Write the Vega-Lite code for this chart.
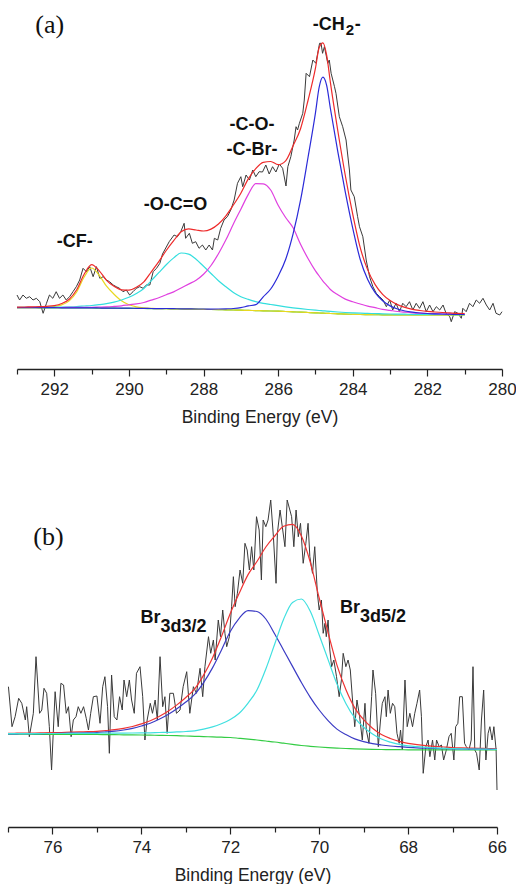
{
"$schema": "https://vega.github.io/schema/vega-lite/v6.json",
"padding": {"left": 5, "top": 5, "right": 0, "bottom": 0},
"spacing": 54,
"config": {"view": {"stroke": null}, "line": {"strokeWidth": 1.2}},
"datasets": {
"a_raw": [
{"E":293.0,"I":74},{"E":292.93,"I":69},{"E":292.84,"I":74},{"E":292.75,"I":70.7},{"E":292.66,"I":72.3},{"E":292.57,"I":69},{"E":292.48,"I":70.7},{"E":292.39,"I":67.3},{"E":292.3,"I":55.7},{"E":292.21,"I":65.7},{"E":292.13,"I":74},{"E":292.04,"I":70.7},{"E":291.95,"I":77.3},{"E":291.86,"I":70.7},{"E":291.77,"I":74},{"E":291.68,"I":69},{"E":291.59,"I":72.3},{"E":291.5,"I":77.3},{"E":291.41,"I":82.3},{"E":291.32,"I":89},{"E":291.23,"I":100.7},{"E":291.14,"I":97.3},{"E":291.05,"I":102.3},{"E":290.96,"I":92.3},{"E":290.87,"I":102.3},{"E":290.78,"I":90.7},{"E":290.69,"I":92.3},{"E":290.6,"I":89},{"E":290.52,"I":87.3},{"E":290.42,"I":84},{"E":290.34,"I":82.3},{"E":290.25,"I":80.7},{"E":290.16,"I":77.3},{"E":290.07,"I":79},{"E":289.98,"I":74},{"E":289.89,"I":77.3},{"E":289.8,"I":80.7},{"E":289.71,"I":82.3},{"E":289.62,"I":80.7},{"E":289.53,"I":84},{"E":289.44,"I":84},{"E":289.35,"I":97.3},{"E":289.26,"I":100.7},{"E":289.17,"I":105.7},{"E":289.1,"I":115},{"E":288.92,"I":127.3},{"E":288.79,"I":134},{"E":288.7,"I":132.3},{"E":288.61,"I":137.3},{"E":288.52,"I":145.7},{"E":288.48,"I":130.7},{"E":288.38,"I":135.7},{"E":288.3,"I":125.7},{"E":288.21,"I":127.3},{"E":288.12,"I":120.7},{"E":288.03,"I":124},{"E":287.94,"I":119},{"E":287.85,"I":124},{"E":287.76,"I":119},{"E":287.71,"I":130.7},{"E":287.62,"I":129},{"E":287.54,"I":140.7},{"E":287.45,"I":149},{"E":287.36,"I":152.3},{"E":287.27,"I":159},{"E":287.18,"I":169},{"E":287.09,"I":185.7},{"E":287.0,"I":192.3},{"E":286.95,"I":182.3},{"E":286.86,"I":194},{"E":286.77,"I":189},{"E":286.68,"I":199},{"E":286.6,"I":192.3},{"E":286.51,"I":197.3},{"E":286.42,"I":197},{"E":286.33,"I":204},{"E":286.24,"I":195},{"E":286.15,"I":202.3},{"E":286.06,"I":197},{"E":285.97,"I":205},{"E":285.88,"I":200.7},{"E":285.79,"I":183},{"E":285.74,"I":202.3},{"E":285.66,"I":212.3},{"E":285.57,"I":229},{"E":285.52,"I":242.3},{"E":285.48,"I":239},{"E":285.43,"I":245.7},{"E":285.34,"I":255.7},{"E":285.3,"I":269},{"E":285.25,"I":295.7},{"E":285.16,"I":292.3},{"E":285.07,"I":309},{"E":284.99,"I":305.7},{"E":284.94,"I":315.7},{"E":284.89,"I":325.7},{"E":284.85,"I":325.7},{"E":284.81,"I":315.7},{"E":284.76,"I":322.3},{"E":284.67,"I":305.7},{"E":284.63,"I":309},{"E":284.58,"I":295.7},{"E":284.49,"I":282.3},{"E":284.45,"I":275.7},{"E":284.36,"I":252.3},{"E":284.27,"I":242.3},{"E":284.18,"I":229},{"E":284.09,"I":199},{"E":284.05,"I":179},{"E":283.96,"I":172.3},{"E":283.87,"I":152.3},{"E":283.82,"I":142.3},{"E":283.73,"I":132.3},{"E":283.64,"I":109},{"E":283.55,"I":92.3},{"E":283.46,"I":82.3},{"E":283.37,"I":75.7},{"E":283.28,"I":72.3},{"E":283.19,"I":69},{"E":283.1,"I":62.3},{"E":283.01,"I":69},{"E":282.93,"I":59},{"E":282.84,"I":65.7},{"E":282.75,"I":57.3},{"E":282.66,"I":65.7},{"E":282.57,"I":62.3},{"E":282.48,"I":67.3},{"E":282.39,"I":59},{"E":282.3,"I":65.7},{"E":282.21,"I":60.7},{"E":282.12,"I":67.3},{"E":282.03,"I":57.3},{"E":281.94,"I":64},{"E":281.85,"I":57.3},{"E":281.76,"I":62.3},{"E":281.67,"I":59},{"E":281.58,"I":64},{"E":281.5,"I":55.7},{"E":281.4,"I":52.3},{"E":281.36,"I":47.3},{"E":281.27,"I":57.3},{"E":281.18,"I":55.7},{"E":281.09,"I":50.7},{"E":281.05,"I":60.7},{"E":280.96,"I":57.3},{"E":280.87,"I":65.7},{"E":280.78,"I":62.3},{"E":280.69,"I":69},{"E":280.6,"I":65.7},{"E":280.51,"I":70.7},{"E":280.42,"I":64},{"E":280.33,"I":59},{"E":280.24,"I":65.7},{"E":280.16,"I":55.7},{"E":280.06,"I":54},{"E":280.0,"I":57.3}
],
"a_fit": [
{"E":293.0,"bg":61.3,"cf":61.3,"oco":61.6,"co":61.5,"ch2":61.4,"fit":61.9},
{"E":292.8,"bg":61.3,"cf":61.3,"oco":61.7,"co":61.5,"ch2":61.4,"fit":62.0},
{"E":292.6,"bg":61.3,"cf":61.4,"oco":61.7,"co":61.6,"ch2":61.4,"fit":62.2},
{"E":292.4,"bg":61.2,"cf":61.4,"oco":61.7,"co":61.5,"ch2":61.3,"fit":62.3},
{"E":292.2,"bg":61.2,"cf":61.7,"oco":61.8,"co":61.5,"ch2":61.3,"fit":62.7},
{"E":292.0,"bg":61.2,"cf":62.4,"oco":61.8,"co":61.5,"ch2":61.3,"fit":63.4},
{"E":291.8,"bg":61.1,"cf":64.1,"oco":62.0,"co":61.5,"ch2":61.2,"fit":65.5},
{"E":291.6,"bg":61.1,"cf":68.1,"oco":62.2,"co":61.6,"ch2":61.2,"fit":69.8},
{"E":291.4,"bg":61.0,"cf":77.0,"oco":62.5,"co":61.6,"ch2":61.1,"fit":79.2},
{"E":291.2,"bg":61.0,"cf":92.0,"oco":63.0,"co":61.7,"ch2":61.1,"fit":94.8},
{"E":291.0,"bg":61.0,"cf":101.0,"oco":63.5,"co":61.7,"ch2":61.1,"fit":104.3},
{"E":290.8,"bg":60.9,"cf":93.9,"oco":64.3,"co":61.9,"ch2":61.0,"fit":98.4},
{"E":290.6,"bg":60.8,"cf":82.8,"oco":65.3,"co":62.1,"ch2":60.9,"fit":88.7},
{"E":290.4,"bg":60.8,"cf":74.8,"oco":66.8,"co":62.6,"ch2":60.9,"fit":82.7},
{"E":290.2,"bg":60.7,"cf":68.2,"oco":69.0,"co":63.2,"ch2":60.8,"fit":79.1},
{"E":290.0,"bg":60.7,"cf":64.2,"oco":71.7,"co":64.2,"ch2":60.8,"fit":78.8},
{"E":289.8,"bg":60.6,"cf":62.1,"oco":75.6,"co":65.1,"ch2":60.7,"fit":81.7},
{"E":289.6,"bg":60.5,"cf":61.1,"oco":80.5,"co":66.5,"ch2":60.6,"fit":87.2},
{"E":289.4,"bg":60.4,"cf":60.6,"oco":88.4,"co":68.9,"ch2":60.5,"fit":97.2},
{"E":289.2,"bg":60.3,"cf":60.3,"oco":96.3,"co":71.3,"ch2":60.4,"fit":107.4},
{"E":289.0,"bg":60.3,"cf":60.3,"oco":104.3,"co":74.3,"ch2":60.5,"fit":118.5},
{"E":288.8,"bg":60.1,"cf":60.1,"oco":111.1,"co":77.1,"ch2":60.3,"fit":128.3},
{"E":288.6,"bg":60.0,"cf":60.0,"oco":116.0,"co":81.0,"ch2":60.2,"fit":137.2},
{"E":288.4,"bg":59.9,"cf":59.9,"oco":114.9,"co":84.9,"ch2":60.1,"fit":140.1},
{"E":288.2,"bg":59.8,"cf":59.8,"oco":109.8,"co":88.8,"ch2":60.0,"fit":139.0},
{"E":288.0,"bg":59.7,"cf":59.7,"oco":102.7,"co":94.7,"ch2":60.0,"fit":138.0},
{"E":287.8,"bg":59.5,"cf":59.5,"oco":95.5,"co":103.5,"ch2":59.9,"fit":139.9},
{"E":287.6,"bg":59.3,"cf":59.3,"oco":88.3,"co":115.3,"ch2":60.0,"fit":145.0},
{"E":287.4,"bg":59.2,"cf":59.2,"oco":82.2,"co":129.2,"ch2":60.2,"fit":153.2},
{"E":287.2,"bg":59.0,"cf":59.0,"oco":76.5,"co":145.0,"ch2":60.5,"fit":164.0},
{"E":287.0,"bg":58.8,"cf":58.8,"oco":72.3,"co":159.8,"ch2":61.3,"fit":175.8},
{"E":286.8,"bg":58.6,"cf":58.6,"oco":69.6,"co":174.6,"ch2":63.1,"fit":190.1},
{"E":286.6,"bg":58.4,"cf":58.4,"oco":67.4,"co":185.4,"ch2":64.4,"fit":200.4},
{"E":286.4,"bg":58.2,"cf":58.2,"oco":65.7,"co":185.2,"ch2":72.2,"fit":206.7},
{"E":286.2,"bg":58.0,"cf":58.0,"oco":64.5,"co":179.0,"ch2":80.0,"fit":207.5},
{"E":286.0,"bg":57.8,"cf":57.8,"oco":63.3,"co":163.8,"ch2":92.8,"fit":204.3},
{"E":285.8,"bg":57.5,"cf":57.5,"oco":62.2,"co":151.5,"ch2":109.5,"fit":208.2},
{"E":285.6,"bg":57.2,"cf":57.2,"oco":61.2,"co":141.2,"ch2":135.2,"fit":223.2},
{"E":285.4,"bg":56.8,"cf":56.8,"oco":60.3,"co":124.8,"ch2":168.8,"fit":240.3},
{"E":285.2,"bg":56.5,"cf":56.5,"oco":59.5,"co":110.5,"ch2":211.5,"fit":268.5},
{"E":285.0,"bg":56.2,"cf":56.2,"oco":58.8,"co":98.2,"ch2":256.2,"fit":300.8},
{"E":284.9,"bg":56.0,"cf":56.0,"oco":58.5,"co":93.0,"ch2":282.0,"fit":321.5},
{"E":284.8,"bg":55.9,"cf":55.9,"oco":58.2,"co":87.9,"ch2":291.9,"fit":326.2},
{"E":284.7,"bg":55.7,"cf":55.7,"oco":57.9,"co":83.7,"ch2":283.7,"fit":313.9},
{"E":284.6,"bg":55.5,"cf":55.5,"oco":57.6,"co":79.5,"ch2":260.5,"fit":286.6},
{"E":284.4,"bg":55.2,"cf":55.2,"oco":57.0,"co":74.2,"ch2":217.2,"fit":238.0},
{"E":284.2,"bg":54.9,"cf":54.9,"oco":56.5,"co":69.9,"ch2":176.9,"fit":193.5},
{"E":284.0,"bg":54.7,"cf":54.7,"oco":56.1,"co":67.2,"ch2":140.7,"fit":154.6},
{"E":283.8,"bg":54.5,"cf":54.5,"oco":55.8,"co":65.0,"ch2":109.5,"fit":121.3},
{"E":283.6,"bg":54.4,"cf":54.4,"oco":55.6,"co":62.9,"ch2":89.4,"fit":99.1},
{"E":283.4,"bg":54.3,"cf":54.3,"oco":55.4,"co":61.3,"ch2":76.3,"fit":84.4},
{"E":283.2,"bg":54.2,"cf":54.2,"oco":55.2,"co":59.7,"ch2":68.2,"fit":74.7},
{"E":283.0,"bg":54.1,"cf":54.1,"oco":55.0,"co":58.6,"ch2":63.1,"fit":68.5},
{"E":282.8,"bg":54.0,"cf":54.0,"oco":54.9,"co":57.5,"ch2":60.0,"fit":64.4},
{"E":282.6,"bg":54.0,"cf":54.0,"oco":54.8,"co":56.8,"ch2":58.0,"fit":61.6},
{"E":282.4,"bg":54.0,"cf":54.0,"oco":54.7,"co":56.2,"ch2":56.8,"fit":59.7},
{"E":282.2,"bg":54.0,"cf":54.0,"oco":54.7,"co":55.8,"ch2":56.0,"fit":58.5},
{"E":282.0,"bg":54.0,"cf":54.0,"oco":54.6,"co":55.5,"ch2":55.5,"fit":57.6},
{"E":281.8,"bg":54.0,"cf":54.0,"oco":54.6,"co":55.3,"ch2":55.2,"fit":57.0},
{"E":281.6,"bg":54.0,"cf":54.0,"oco":54.5,"co":55.0,"ch2":55.0,"fit":56.5},
{"E":281.4,"bg":54.0,"cf":54.0,"oco":54.5,"co":54.9,"ch2":54.8,"fit":56.1},
{"E":281.2,"bg":54.0,"cf":54.0,"oco":54.4,"co":54.7,"ch2":54.6,"fit":55.7},
{"E":281.0,"bg":54.0,"cf":54.0,"oco":54.4,"co":54.6,"ch2":54.5,"fit":55.5}
],
"a_letter": [{"E":292.51,"I":336,"t":"(a)"}],
"a_lab_c": [{"E":286.7,"I":239,"t":"-C-O-"},{"E":286.7,"I":214,"t":"-C-Br-"},{"E":288.75,"I":159,"t":"-O-C=O"},{"E":291.45,"I":122,"t":"-CF-"}],
"a_lab_l": [{"E":285.07,"I":339,"t":"-CH"},{"E":283.95,"I":339,"t":"-"}],
"a_lab_sub": [{"E":284.19,"I":334,"t":"2"}],
"b_raw": [
{"E":76.99,"I":140.3},{"E":76.91,"I":100.3},{"E":76.84,"I":110.3},{"E":76.76,"I":128.7},{"E":76.69,"I":123.7},{"E":76.61,"I":107},{"E":76.58,"I":120.3},{"E":76.52,"I":90.3},{"E":76.43,"I":113.7},{"E":76.37,"I":170.3},{"E":76.29,"I":113.7},{"E":76.24,"I":117},{"E":76.19,"I":138.7},{"E":76.13,"I":133.7},{"E":76.07,"I":100.3},{"E":76.02,"I":57},{"E":75.94,"I":135.3},{"E":75.87,"I":100.3},{"E":75.81,"I":143.7},{"E":75.75,"I":142},{"E":75.69,"I":113.7},{"E":75.64,"I":120.3},{"E":75.58,"I":90.3},{"E":75.53,"I":107},{"E":75.47,"I":110.3},{"E":75.42,"I":120.3},{"E":75.36,"I":113.7},{"E":75.3,"I":120.3},{"E":75.24,"I":108.7},{"E":75.19,"I":97},{"E":75.14,"I":113.7},{"E":75.08,"I":130.3},{"E":75.0,"I":131},{"E":74.93,"I":103.7},{"E":74.87,"I":140.3},{"E":74.82,"I":150.3},{"E":74.76,"I":120.3},{"E":74.72,"I":73.7},{"E":74.67,"I":152},{"E":74.61,"I":110.3},{"E":74.55,"I":107},{"E":74.49,"I":130.3},{"E":74.43,"I":117},{"E":74.39,"I":147},{"E":74.33,"I":130.3},{"E":74.27,"I":147},{"E":74.22,"I":127},{"E":74.16,"I":113.7},{"E":74.11,"I":153.7},{"E":74.03,"I":160.3},{"E":73.97,"I":130.3},{"E":73.92,"I":87},{"E":73.87,"I":107},{"E":73.8,"I":123.7},{"E":73.75,"I":113.7},{"E":73.69,"I":127},{"E":73.64,"I":107},{"E":73.58,"I":170.3},{"E":73.52,"I":120.3},{"E":73.47,"I":130.3},{"E":73.42,"I":93.7},{"E":73.36,"I":133.7},{"E":73.28,"I":133.7},{"E":73.21,"I":113.7},{"E":73.13,"I":117},{"E":73.06,"I":140.3},{"E":72.98,"I":155.3},{"E":72.91,"I":113.7},{"E":72.83,"I":140.3},{"E":72.76,"I":133.7},{"E":72.68,"I":158.7},{"E":72.62,"I":130.3},{"E":72.57,"I":160.3},{"E":72.49,"I":190.3},{"E":72.44,"I":173.7},{"E":72.38,"I":187},{"E":72.34,"I":167},{"E":72.27,"I":207},{"E":72.22,"I":190.3},{"E":72.17,"I":217},{"E":72.12,"I":193.7},{"E":72.08,"I":180.3},{"E":72.02,"I":190.3},{"E":71.97,"I":220.3},{"E":71.93,"I":250.3},{"E":71.89,"I":220.3},{"E":71.84,"I":233.7},{"E":71.78,"I":257},{"E":71.72,"I":243.7},{"E":71.67,"I":283.7},{"E":71.62,"I":277},{"E":71.57,"I":257},{"E":71.52,"I":280.3},{"E":71.47,"I":257},{"E":71.41,"I":310.3},{"E":71.35,"I":297},{"E":71.3,"I":247},{"E":71.26,"I":307},{"E":71.2,"I":300.3},{"E":71.15,"I":307},{"E":71.09,"I":327},{"E":71.03,"I":290.3},{"E":70.97,"I":243.7},{"E":70.94,"I":293.7},{"E":70.88,"I":317},{"E":70.82,"I":297},{"E":70.77,"I":280.3},{"E":70.72,"I":327},{"E":70.66,"I":317},{"E":70.62,"I":310.3},{"E":70.57,"I":280.3},{"E":70.52,"I":317},{"E":70.47,"I":290.3},{"E":70.42,"I":303.7},{"E":70.36,"I":263.7},{"E":70.3,"I":283.7},{"E":70.25,"I":303.7},{"E":70.21,"I":270.3},{"E":70.15,"I":253.7},{"E":70.1,"I":280.3},{"E":70.04,"I":233.7},{"E":70.0,"I":217},{"E":69.95,"I":227},{"E":69.91,"I":193.7},{"E":69.87,"I":203.7},{"E":69.84,"I":190.3},{"E":69.8,"I":207},{"E":69.76,"I":177},{"E":69.72,"I":160.3},{"E":69.67,"I":167},{"E":69.61,"I":150.3},{"E":69.55,"I":130.3},{"E":69.5,"I":147},{"E":69.46,"I":173.7},{"E":69.4,"I":160.3},{"E":69.35,"I":167},{"E":69.3,"I":157},{"E":69.25,"I":127},{"E":69.2,"I":100.3},{"E":69.15,"I":127},{"E":69.09,"I":110.3},{"E":69.03,"I":87},{"E":68.97,"I":123.7},{"E":68.94,"I":97},{"E":68.88,"I":83.7},{"E":68.82,"I":130.3},{"E":68.79,"I":157},{"E":68.73,"I":133.7},{"E":68.67,"I":80.3},{"E":68.62,"I":107},{"E":68.58,"I":123.7},{"E":68.52,"I":130.3},{"E":68.49,"I":110.3},{"E":68.45,"I":137},{"E":68.4,"I":113.7},{"E":68.35,"I":123.7},{"E":68.3,"I":120.3},{"E":68.25,"I":93.7},{"E":68.2,"I":83.7},{"E":68.17,"I":97},{"E":68.13,"I":77},{"E":68.07,"I":147},{"E":68.02,"I":100.3},{"E":67.96,"I":113.7},{"E":67.9,"I":100.3},{"E":67.85,"I":113.7},{"E":67.8,"I":123.7},{"E":67.74,"I":137},{"E":67.7,"I":110.3},{"E":67.66,"I":53.7},{"E":67.6,"I":80.3},{"E":67.55,"I":87},{"E":67.51,"I":70.3},{"E":67.45,"I":87},{"E":67.4,"I":67},{"E":67.36,"I":87},{"E":67.3,"I":80.3},{"E":67.25,"I":82},{"E":67.2,"I":67},{"E":67.14,"I":77},{"E":67.08,"I":90.3},{"E":67.03,"I":93.7},{"E":66.97,"I":67},{"E":66.93,"I":100.3},{"E":66.88,"I":103.7},{"E":66.84,"I":130.3},{"E":66.78,"I":130.3},{"E":66.73,"I":83.7},{"E":66.69,"I":80.3},{"E":66.63,"I":77},{"E":66.58,"I":87},{"E":66.54,"I":160.3},{"E":66.5,"I":77},{"E":66.46,"I":73.7},{"E":66.4,"I":57},{"E":66.35,"I":107},{"E":66.3,"I":137},{"E":66.25,"I":67},{"E":66.2,"I":93.7},{"E":66.16,"I":100.3},{"E":66.11,"I":87},{"E":66.07,"I":100.3},{"E":66.02,"I":77},{"E":66.0,"I":37}
],
"b_fit": [
{"E":77.0,"bg":92.8,"d32":93.1,"d52":93.3,"fit":93.6},
{"E":76.8,"bg":92.8,"d32":93.2,"d52":93.4,"fit":93.8},
{"E":76.6,"bg":92.8,"d32":93.3,"d52":93.4,"fit":93.9},
{"E":76.4,"bg":92.7,"d32":93.3,"d52":93.4,"fit":94.0},
{"E":76.2,"bg":92.7,"d32":93.4,"d52":93.5,"fit":94.2},
{"E":76.0,"bg":92.7,"d32":93.5,"d52":93.5,"fit":94.3},
{"E":75.8,"bg":92.6,"d32":93.6,"d52":93.5,"fit":94.5},
{"E":75.6,"bg":92.6,"d32":93.8,"d52":93.6,"fit":94.8},
{"E":75.4,"bg":92.6,"d32":94.0,"d52":93.7,"fit":95.1},
{"E":75.2,"bg":92.5,"d32":94.2,"d52":93.6,"fit":95.3},
{"E":75.0,"bg":92.5,"d32":94.5,"d52":93.7,"fit":95.7},
{"E":74.8,"bg":92.4,"d32":95.1,"d52":93.8,"fit":96.5},
{"E":74.6,"bg":92.3,"d32":95.8,"d52":93.8,"fit":97.3},
{"E":74.4,"bg":92.2,"d32":97.0,"d52":93.9,"fit":98.7},
{"E":74.2,"bg":92.1,"d32":98.6,"d52":94.0,"fit":100.5},
{"E":74.0,"bg":92.0,"d32":101.0,"d52":94.1,"fit":103.1},
{"E":73.8,"bg":91.8,"d32":103.8,"d52":94.2,"fit":106.2},
{"E":73.6,"bg":91.7,"d32":107.7,"d52":94.5,"fit":110.5},
{"E":73.4,"bg":91.5,"d32":112.5,"d52":94.7,"fit":115.7},
{"E":73.2,"bg":91.3,"d32":118.3,"d52":95.1,"fit":122.1},
{"E":73.0,"bg":91.0,"d32":125.0,"d52":95.5,"fit":129.5},
{"E":72.8,"bg":90.7,"d32":132.7,"d52":96.2,"fit":138.2},
{"E":72.6,"bg":90.4,"d32":144.4,"d52":97.9,"fit":151.9},
{"E":72.4,"bg":90.1,"d32":159.1,"d52":100.1,"fit":169.1},
{"E":72.2,"bg":89.8,"d32":176.8,"d52":103.3,"fit":190.3},
{"E":72.0,"bg":89.5,"d32":195.5,"d52":107.5,"fit":213.5},
{"E":71.8,"bg":88.7,"d32":208.7,"d52":113.7,"fit":233.7},
{"E":71.6,"bg":87.9,"d32":216.4,"d52":123.9,"fit":252.4},
{"E":71.4,"bg":87.0,"d32":215.5,"d52":137.0,"fit":265.5},
{"E":71.2,"bg":86.0,"d32":208.0,"d52":158.0,"fit":280.0},
{"E":71.0,"bg":85.0,"d32":193.0,"d52":183.0,"fit":291.0},
{"E":70.8,"bg":83.8,"d32":176.8,"d52":207.8,"fit":300.8},
{"E":70.6,"bg":82.6,"d32":160.6,"d52":224.6,"fit":302.6},
{"E":70.4,"bg":81.5,"d32":144.5,"d52":228.0,"fit":291.0},
{"E":70.2,"bg":80.7,"d32":129.7,"d52":215.7,"fit":264.7},
{"E":70.0,"bg":80.0,"d32":117.0,"d52":192.0,"fit":229.0},
{"E":69.8,"bg":79.4,"d32":106.4,"d52":167.4,"fit":194.4},
{"E":69.6,"bg":78.9,"d32":97.9,"d52":142.9,"fit":161.9},
{"E":69.4,"bg":78.5,"d32":92.5,"d52":123.5,"fit":137.5},
{"E":69.2,"bg":78.1,"d32":88.1,"d52":109.1,"fit":119.1},
{"E":69.0,"bg":77.8,"d32":85.3,"d52":99.8,"fit":107.3},
{"E":68.8,"bg":77.6,"d32":83.3,"d52":93.1,"fit":98.8},
{"E":68.6,"bg":77.5,"d32":82.0,"d52":88.0,"fit":92.5},
{"E":68.4,"bg":77.4,"d32":81.0,"d52":84.9,"fit":88.5},
{"E":68.2,"bg":77.3,"d32":80.3,"d52":82.6,"fit":85.6},
{"E":68.0,"bg":77.2,"d32":79.7,"d52":81.2,"fit":83.7},
{"E":67.8,"bg":77.1,"d32":79.2,"d52":80.3,"fit":82.4},
{"E":67.6,"bg":77.1,"d32":78.9,"d52":79.6,"fit":81.4},
{"E":67.4,"bg":77.1,"d32":78.7,"d52":79.1,"fit":80.7},
{"E":67.2,"bg":77.1,"d32":78.4,"d52":78.7,"fit":80.0},
{"E":67.0,"bg":77.0,"d32":78.1,"d52":78.3,"fit":79.4},
{"E":66.8,"bg":77.0,"d32":78.0,"d52":78.1,"fit":79.1},
{"E":66.6,"bg":77.0,"d32":77.9,"d52":78.0,"fit":78.9},
{"E":66.4,"bg":77.0,"d32":77.8,"d52":77.9,"fit":78.7},
{"E":66.2,"bg":77.0,"d32":77.7,"d52":77.8,"fit":78.5},
{"E":66.0,"bg":77.0,"d32":77.6,"d52":77.6,"fit":78.2}
],
"b_letter": [{"E":76.43,"I":282,"t":"(b)"}],
"b_lab": [{"E":74.02,"I":204,"t":"Br"},{"E":73.57,"I":195,"t":"3d3/2"},{"E":69.53,"I":214,"t":"Br"},{"E":69.08,"I":205,"t":"3d5/2"}]
},
"vconcat": [
{
"width": 494, "height": 364,
"resolve": {"axis": {"x": "independent"}},
"layer": [
{"data": {"name": "a_raw"}, "mark": {"type": "line", "color": "#3a3a3a", "strokeWidth": 1},
 "encoding": {
  "x": {"field": "E", "type": "quantitative", "scale": {"domain": [293, 280], "range": [9, 494], "nice": false, "zero": false},
   "axis": {"orient": "bottom", "values": [292, 290, 288, 286, 284, 282, 280], "format": "d", "tickSize": 7, "tickWidth": 1.2, "tickColor": "#222", "domainColor": "#222", "domainWidth": 1.5, "labelFont": "Liberation Sans", "labelFontSize": 17, "labelColor": "#222", "labelPadding": 5, "labelFlush": false, "labelOverlap": false, "grid": false, "title": "Binding Energy (eV)", "titleFont": "Liberation Sans", "titleFontSize": 17.5, "titleFontWeight": "normal", "titleColor": "#222", "titlePadding": 11}},
  "y": {"field": "I", "type": "quantitative", "scale": {"domain": [0, 364], "nice": false, "zero": false}, "axis": null}}},
{"data": {"name": "a_fit"}, "mark": {"type": "line", "color": "#33cc33", "interpolate": "monotone"},
 "encoding": {
  "x": {"field": "E", "type": "quantitative", "axis": {"orient": "bottom", "values": [293, 291, 289, 287, 285, 283, 281], "tickSize": 5, "tickWidth": 1.2, "tickColor": "#222", "labels": false, "domain": false, "grid": false, "title": null}},
  "y": {"field": "bg", "type": "quantitative", "axis": null}}},
{"data": {"name": "a_fit"}, "mark": {"type": "line", "color": "#e8d820", "interpolate": "monotone"},
 "encoding": {"x": {"field": "E", "type": "quantitative", "axis": null}, "y": {"field": "cf", "type": "quantitative", "axis": null}}},
{"data": {"name": "a_fit"}, "mark": {"type": "line", "color": "#33dede", "interpolate": "monotone"},
 "encoding": {"x": {"field": "E", "type": "quantitative", "axis": null}, "y": {"field": "oco", "type": "quantitative", "axis": null}}},
{"data": {"name": "a_fit"}, "mark": {"type": "line", "color": "#e040e0", "interpolate": "monotone"},
 "encoding": {"x": {"field": "E", "type": "quantitative", "axis": null}, "y": {"field": "co", "type": "quantitative", "axis": null}}},
{"data": {"name": "a_fit"}, "mark": {"type": "line", "color": "#2a2ad8", "interpolate": "monotone"},
 "encoding": {"x": {"field": "E", "type": "quantitative", "axis": null}, "y": {"field": "ch2", "type": "quantitative", "axis": null}}},
{"data": {"name": "a_fit"}, "mark": {"type": "line", "color": "#ee2a2a", "interpolate": "monotone"},
 "encoding": {"x": {"field": "E", "type": "quantitative", "axis": null}, "y": {"field": "fit", "type": "quantitative", "axis": null}}},
{"data": {"name": "a_letter"}, "mark": {"type": "text", "font": "Liberation Serif", "fontSize": 26, "align": "left", "baseline": "alphabetic", "color": "#111"},
 "encoding": {"x": {"field": "E", "type": "quantitative", "axis": null}, "y": {"field": "I", "type": "quantitative", "axis": null}, "text": {"field": "t"}}},
{"data": {"name": "a_lab_c"}, "mark": {"type": "text", "font": "Liberation Sans", "fontSize": 18, "fontWeight": "bold", "align": "center", "baseline": "alphabetic", "color": "#111"},
 "encoding": {"x": {"field": "E", "type": "quantitative", "axis": null}, "y": {"field": "I", "type": "quantitative", "axis": null}, "text": {"field": "t"}}},
{"data": {"name": "a_lab_l"}, "mark": {"type": "text", "font": "Liberation Sans", "fontSize": 18, "fontWeight": "bold", "align": "left", "baseline": "alphabetic", "color": "#111"},
 "encoding": {"x": {"field": "E", "type": "quantitative", "axis": null}, "y": {"field": "I", "type": "quantitative", "axis": null}, "text": {"field": "t"}}},
{"data": {"name": "a_lab_sub"}, "mark": {"type": "text", "font": "Liberation Sans", "fontSize": 15, "fontWeight": "bold", "align": "left", "baseline": "alphabetic", "color": "#111"},
 "encoding": {"x": {"field": "E", "type": "quantitative", "axis": null}, "y": {"field": "I", "type": "quantitative", "axis": null}, "text": {"field": "t"}}}
]
},
{
"width": 489, "height": 347,
"resolve": {"axis": {"x": "independent"}},
"layer": [
{"data": {"name": "b_raw"}, "mark": {"type": "line", "color": "#3a3a3a", "strokeWidth": 1},
 "encoding": {
  "x": {"field": "E", "type": "quantitative", "scale": {"domain": [77, 66], "range": [0, 489], "nice": false, "zero": false},
   "axis": {"orient": "bottom", "values": [76, 74, 72, 70, 68, 66], "format": "d", "tickSize": 7, "tickWidth": 1.2, "tickColor": "#222", "domainColor": "#222", "domainWidth": 1.5, "labelFont": "Liberation Sans", "labelFontSize": 17, "labelColor": "#222", "labelPadding": 5, "labelFlush": false, "labelOverlap": false, "grid": false, "title": "Binding Energy (eV)", "titleFont": "Liberation Sans", "titleFontSize": 17.5, "titleFontWeight": "normal", "titleColor": "#222", "titlePadding": 11}},
  "y": {"field": "I", "type": "quantitative", "scale": {"domain": [0, 347], "nice": false, "zero": false}, "axis": null}}},
{"data": {"name": "b_fit"}, "mark": {"type": "line", "color": "#33cc44", "interpolate": "monotone"},
 "encoding": {
  "x": {"field": "E", "type": "quantitative", "axis": {"orient": "bottom", "values": [77, 75, 73, 71, 69, 67], "tickSize": 5, "tickWidth": 1.2, "tickColor": "#222", "labels": false, "domain": false, "grid": false, "title": null}},
  "y": {"field": "bg", "type": "quantitative", "axis": null}}},
{"data": {"name": "b_fit"}, "mark": {"type": "line", "color": "#ee3333", "interpolate": "monotone"},
 "encoding": {"x": {"field": "E", "type": "quantitative", "axis": null}, "y": {"field": "fit", "type": "quantitative", "axis": null}}},
{"data": {"name": "b_fit"}, "mark": {"type": "line", "color": "#3b3bc4", "interpolate": "monotone"},
 "encoding": {"x": {"field": "E", "type": "quantitative", "axis": null}, "y": {"field": "d32", "type": "quantitative", "axis": null}}},
{"data": {"name": "b_fit"}, "mark": {"type": "line", "color": "#40e0e0", "interpolate": "monotone"},
 "encoding": {"x": {"field": "E", "type": "quantitative", "axis": null}, "y": {"field": "d52", "type": "quantitative", "axis": null}}},
{"data": {"name": "b_letter"}, "mark": {"type": "text", "font": "Liberation Serif", "fontSize": 26, "align": "left", "baseline": "alphabetic", "color": "#111"},
 "encoding": {"x": {"field": "E", "type": "quantitative", "axis": null}, "y": {"field": "I", "type": "quantitative", "axis": null}, "text": {"field": "t"}}},
{"data": {"name": "b_lab"}, "mark": {"type": "text", "font": "Liberation Sans", "fontSize": 18, "fontWeight": "bold", "align": "left", "baseline": "alphabetic", "color": "#111"},
 "encoding": {"x": {"field": "E", "type": "quantitative", "axis": null}, "y": {"field": "I", "type": "quantitative", "axis": null}, "text": {"field": "t"}}}
]
}
]
}
